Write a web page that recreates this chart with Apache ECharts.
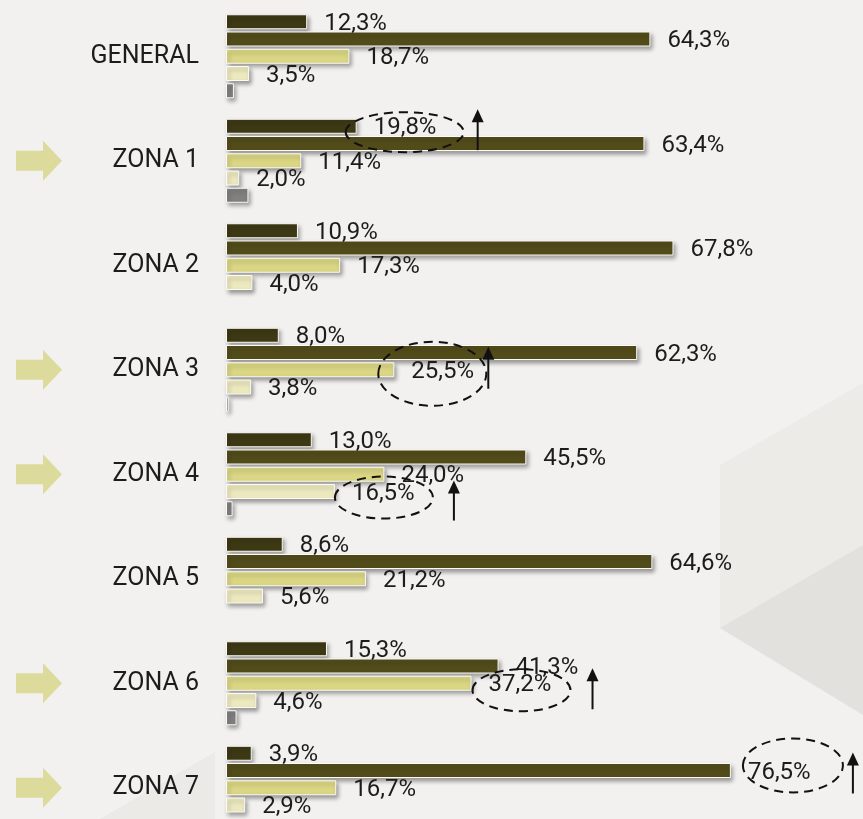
<!DOCTYPE html>
<html>
<head>
<meta charset="utf-8">
<script src="https://cdn.jsdelivr.net/npm/echarts@6/dist/echarts.min.js"></script>
<style>
  html, body { margin: 0; padding: 0; background: #f2f1ef; overflow: hidden; }
  #chart { width: 900px; height: 850px; }
</style>
</head>
<body>
<div id="chart"></div>
<script>
const zonas = ['GENERAL', 'ZONA 1', 'ZONA 2', 'ZONA 3', 'ZONA 4', 'ZONA 5', 'ZONA 6', 'ZONA 7']
const serie1 = [12.3, 19.8, 10.9, 8.0, 13.0, 8.6, 15.3, 3.9]
const serie2 = [64.3, 63.4, 67.8, 62.3, 45.5, 64.6, 41.3, 76.5]
const serie3 = [18.7, 11.4, 17.3, 25.5, 24.0, 21.2, 37.2, 16.7]
const serie4 = [3.5, 2.0, 4.0, 3.8, 16.5, 5.6, 4.6, 2.9]
const serie5 = [1.2, 3.4, null, 0.4, 1.0, null, 1.6, null]
const colores = ['#3d3915', '#524c1b', '#dad684', '#ece9bf', '#808080']
// zonas marcadas con flecha a la izquierda
const marcadas = ['ZONA 1', 'ZONA 3', 'ZONA 4', 'ZONA 6', 'ZONA 7']
// valores rodeados con elipse y flecha hacia arriba
const destacados = [
  { zona: 'ZONA 1', serie: 0, ex: 48, dy: 6, rx: 59, ry: 20, ax: 121, top: -23, bottom: 18 },
  { zona: 'ZONA 3', serie: 2, ex: 38, dy: 4, rx: 54, ry: 32, ax: 94, top: -27, bottom: 15 },
  { zona: 'ZONA 4', serie: 3, ex: 49, dy: 6, rx: 49, ry: 21, ax: 119, top: -17, bottom: 23 },
  { zona: 'ZONA 6', serie: 2, ex: 50, dy: 7, rx: 49, ry: 21, ax: 121, top: -22, bottom: 19 },
  { zona: 'ZONA 7', serie: 1, ex: 62, dy: -5, rx: 50, ry: 27, ax: 122, top: -13, bottom: 28 }
]

const datos = [serie1, serie2, serie3, serie4, serie5]
const fmt = v => v.toFixed(1).replace('.', ',') + '%'

let myChart = echarts.init(document.getElementById('chart'))

const series = datos.map((d, i) => ({
  type: 'bar',
  data: d,
  barWidth: 15,
  barGap: '15%',
  itemStyle: {
    color: colores[i],
    borderColor: '#fbfaf6',
    borderWidth: 1,
    shadowColor: 'rgba(0,0,0,0.35)',
    shadowBlur: 4,
    shadowOffsetX: 2,
    shadowOffsetY: 3
  },
  label: {
    show: i < 4,
    position: 'right',
    distance: 17,
    offset: [0, 2],
    color: '#1c1c1c',
    fontFamily: 'Roboto',
    fontSize: 24,
    formatter: p => fmt(p.value)
  },
  silent: true
}))

myChart.setOption({
  backgroundColor: '#f2f1ef',
  animation: false,
  grid: {
    left: 226,
    top: 4,
    width: 660,
    height: 836,
    containLabel: false
  },
  xAxis: {
    type: 'value',
    min: 0,
    max: 100,
    show: false
  },
  yAxis: {
    type: 'category',
    data: zonas,
    inverse: true,
    axisLine: { show: false },
    axisTick: { show: false },
    splitLine: { show: false },
    axisLabel: {
      margin: 27,
      color: '#1c1c1c',
      fontFamily: 'Roboto',
      fontSize: 25
    }
  },
  series: series
})

// decoracion de fondo y anotaciones
let graficos = [
  { type: 'polygon', z: -10, shape: { points: [[720, 465], [863, 383], [863, 560], [720, 628]] }, style: { fill: '#ecebe7' } },
  { type: 'polygon', z: -10, shape: { points: [[720, 628], [863, 545], [863, 715]] }, style: { fill: '#e2e1de' } },
  { type: 'polygon', z: -10, shape: { points: [[100, 819], [215, 752], [215, 819]] }, style: { fill: '#ebeae6' } }
]

marcadas.forEach(z => {
  const y = myChart.convertToPixel({ yAxisIndex: 0 }, z)
  graficos.push({
    type: 'polygon',
    shape: { points: [[16, y - 10], [43, y - 10], [43, y - 20], [62, y], [43, y + 20], [43, y + 10], [16, y + 10]] },
    style: { fill: '#dcdb9c' }
  })
})

const paso = 17.3
destacados.forEach(a => {
  const idx = zonas.indexOf(a.zona)
  const v = datos[a.serie][idx]
  const x = myChart.convertToPixel({ xAxisIndex: 0 }, v)
  const yc = myChart.convertToPixel({ yAxisIndex: 0 }, a.zona) + (a.serie - 2) * paso
  const cx = x + a.ex
  const cy = yc + a.dy
  graficos.push({
    type: 'ellipse',
    z: 100,
    shape: { cx: cx, cy: cy, rx: a.rx, ry: a.ry },
    style: { fill: 'none', stroke: '#111', lineWidth: 2, lineDash: [9, 6] }
  })
  const axx = x + a.ax
  graficos.push({
    type: 'line',
    z: 100,
    shape: { x1: axx, y1: cy + a.bottom, x2: axx, y2: cy + a.top + 10 },
    style: { stroke: '#111', lineWidth: 2 }
  })
  graficos.push({
    type: 'polygon',
    z: 100,
    shape: { points: [[axx - 6, cy + a.top + 13], [axx, cy + a.top], [axx + 6, cy + a.top + 13]] },
    style: { fill: '#111' }
  })
})

myChart.setOption({ graphic: graficos })
</script>
</body>
</html>
